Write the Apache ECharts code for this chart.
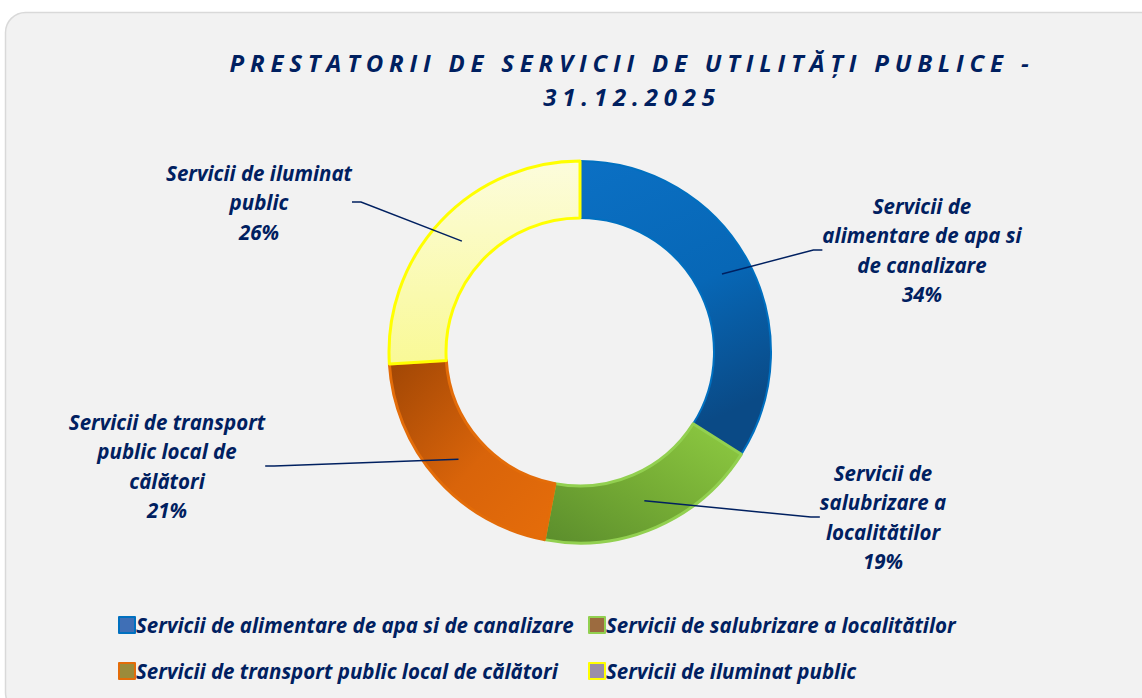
<!DOCTYPE html>
<html>
<head>
<meta charset="utf-8">
<script src="https://cdn.jsdelivr.net/npm/echarts@6/dist/echarts.min.js"></script>
<style>
  html, body { margin: 0; padding: 0; background: #ffffff; }
  #chart { width: 1142px; height: 698px; }
  /* spaced-out title letters, like the original */
  #chart text[style*="24px"] { letter-spacing: 5.8px; }
</style>
</head>
<body>
<div id="chart"></div>
<script>
const categories = [
  'Servicii de alimentare de apa si de canalizare',
  'Servicii de salubrizare a localitătilor',
  'Servicii de transport public local de călători',
  'Servicii de iluminat public'
];
// label text as it wraps in the picture
const labelLines = [
  'Servicii de\nalimentare de apa si\nde canalizare',
  'Servicii de\nsalubrizare a\nlocalitătilor',
  'Servicii de transport\npublic local de\ncălători',
  'Servicii de iluminat\npublic'
];
const shares = [34, 19, 21, 26];
const titleText = 'PRESTATORII DE SERVICII DE UTILITĂȚI PUBLICE -\n31.12.2025';

const navy = '#002060';
const font = '"Open Sans", sans-serif';

const chart = echarts.init(document.getElementById('chart'), null, { renderer: 'svg' });

const grad = (x, y, x2, y2, stops) =>
  new echarts.graphic.LinearGradient(x, y, x2, y2, stops.map(c => ({ offset: c[0], color: c[1] })));

const sliceStyles = [
  { color: grad(0, 0, 0.3, 1, [[0, '#0b70c4'], [0.55, '#0767b6'], [1, '#0a4a86']]), borderColor: '#0070c0', borderWidth: 2 },
  { color: grad(1, 0, 0, 1, [[0, '#8ecb42'], [0.5, '#76ad35'], [1, '#5b8d2c']]), borderColor: '#92d050', borderWidth: 3 },
  { color: grad(0, 0, 1, 1, [[0, '#a04605'], [0.55, '#d9640a'], [1, '#e66d0a']]), borderColor: '#e36c09', borderWidth: 3 },
  { color: grad(0, 0, 0, 1, [[0, '#fcfcdc'], [1, '#f9f996']]), borderColor: '#ffff00', borderWidth: 3 }
];
const legendIcons = [
  { color: '#3f6fb6', borderColor: '#0070c0' },
  { color: '#9c6b3f', borderColor: '#92d050' },
  { color: '#9b8b3a', borderColor: '#e36c09' },
  { color: '#9a8fa8', borderColor: '#ffff00' }
];

// where each label block sits (centre of text block)
const labelPos = [[922, 250], [883, 517], [167, 466], [259, 202]];

const legendItem = i => ({
  name: categories[i],
  itemStyle: { color: legendIcons[i].color, borderColor: legendIcons[i].borderColor, borderWidth: 2 }
});
const legendText = { color: navy, fontFamily: font, fontSize: 20.5, fontWeight: 'bold', fontStyle: 'italic', padding: [0, 0, 0, -4] };

const option = {
  animation: false,
  graphic: [
    {
      type: 'rect', z: -10, silent: true,
      shape: { x: 5.5, y: 12.5, width: 1160, height: 700, r: 20 },
      style: { fill: '#f2f2f2', stroke: '#d9d9d9', lineWidth: 1.5 }
    },
    {
      type: 'text', x: 632, y: 45, silent: true,
      style: {
        text: titleText, fill: navy, textAlign: 'center',
        font: 'italic bold 24px "Open Sans", sans-serif', lineHeight: 34
      }
    }
  ],
  legend: [
    {
      orient: 'vertical', left: 113, top: 610, itemWidth: 16, itemHeight: 16, itemGap: 26,
      icon: 'rect', selectedMode: false, textStyle: legendText,
      data: [legendItem(0), legendItem(2)]
    },
    {
      orient: 'vertical', left: 583, top: 610, itemWidth: 16, itemHeight: 16, itemGap: 26,
      icon: 'rect', selectedMode: false, textStyle: legendText,
      data: [legendItem(1), legendItem(3)]
    }
  ],
  series: [
    {
      name: 'Prestatori',
      type: 'pie',
      center: [580, 352],
      radius: [134, 191],
      startAngle: 90,
      clockwise: true,
      silent: true,
      label: { show: false },
      labelLine: { show: false },
      data: categories.map((c, i) => ({ name: c, value: shares[i], itemStyle: sliceStyles[i] }))
    },
    {
      // invisible ring to carry labels and leader lines from mid-ring
      name: 'Etichete',
      type: 'pie',
      center: [580, 352],
      radius: [0, 162],
      startAngle: 90,
      clockwise: true,
      silent: true,
      z: 3,
      itemStyle: { color: 'rgba(0,0,0,0)' },
      label: {
        show: true,
        color: navy, fontFamily: font, fontSize: 20.5, fontWeight: 'bold', fontStyle: 'italic',
        lineHeight: 29.5, align: 'center',
        formatter: p => labelLines[p.dataIndex] + '\n' + Math.round(p.percent) + '%'
      },
      labelLine: { show: true, length: 10, length2: 9, lineStyle: { color: navy, width: 1.5 } },
      labelLayout: p => ({
        x: labelPos[p.dataIndex][0],
        y: labelPos[p.dataIndex][1],
        align: 'center',
        verticalAlign: 'middle'
      }),
      data: categories.map((c, i) => ({ name: c, value: shares[i] }))
    }
  ]
};

chart.setOption(option);
</script>
</body>
</html>
